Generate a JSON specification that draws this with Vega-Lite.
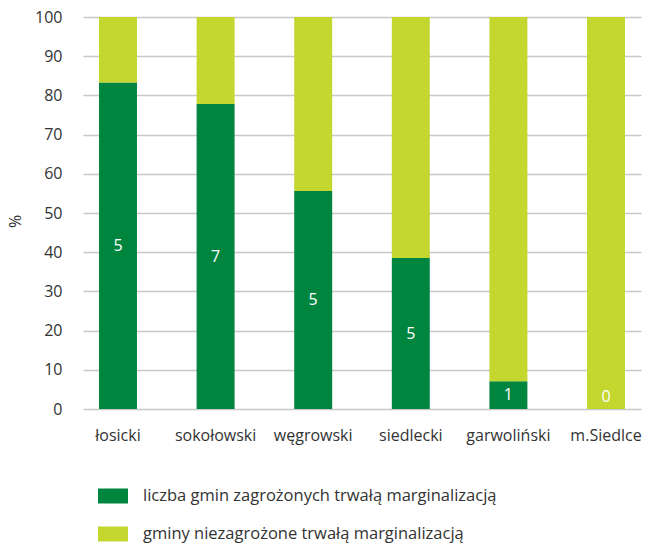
{
  "$schema": "https://vega.github.io/schema/vega-lite/v6.json",
  "autosize": {"type": "none"},
  "width": 558,
  "height": 392,
  "padding": {"left": 83, "top": 17, "right": 4, "bottom": 135},
  "background": "white",
  "config": {
    "font": "Open Sans",
    "view": {"stroke": null},
    "axis": {"labelFontSize": 16, "labelColor": "#333333", "ticks": false, "domain": false, "labelFont": "Open Sans"}
  },
  "data": {
    "values": [
      {"powiat": "łosicki", "kat": "liczba gmin zagrożonych trwałą marginalizacją", "ord": 1, "pct": 83.3, "n": 5},
      {"powiat": "łosicki", "kat": "gminy niezagrożone trwałą marginalizacją", "ord": 2, "pct": 16.7, "n": 1},
      {"powiat": "sokołowski", "kat": "liczba gmin zagrożonych trwałą marginalizacją", "ord": 1, "pct": 77.8, "n": 7},
      {"powiat": "sokołowski", "kat": "gminy niezagrożone trwałą marginalizacją", "ord": 2, "pct": 22.2, "n": 2},
      {"powiat": "węgrowski", "kat": "liczba gmin zagrożonych trwałą marginalizacją", "ord": 1, "pct": 55.6, "n": 5},
      {"powiat": "węgrowski", "kat": "gminy niezagrożone trwałą marginalizacją", "ord": 2, "pct": 44.4, "n": 4},
      {"powiat": "siedlecki", "kat": "liczba gmin zagrożonych trwałą marginalizacją", "ord": 1, "pct": 38.5, "n": 5},
      {"powiat": "siedlecki", "kat": "gminy niezagrożone trwałą marginalizacją", "ord": 2, "pct": 61.5, "n": 8},
      {"powiat": "garwoliński", "kat": "liczba gmin zagrożonych trwałą marginalizacją", "ord": 1, "pct": 7.1, "n": 1},
      {"powiat": "garwoliński", "kat": "gminy niezagrożone trwałą marginalizacją", "ord": 2, "pct": 92.9, "n": 13},
      {"powiat": "m.Siedlce", "kat": "liczba gmin zagrożonych trwałą marginalizacją", "ord": 1, "pct": 0, "n": 0},
      {"powiat": "m.Siedlce", "kat": "gminy niezagrożone trwałą marginalizacją", "ord": 2, "pct": 100, "n": 1}
    ]
  },
  "encoding": {
    "x": {
      "field": "powiat", "type": "nominal", "sort": null,
      "scale": {"paddingInner": 0.611, "paddingOuter": 0.164},
      "axis": {"title": null, "labelAngle": 0, "labelFontSize": 16, "labelPadding": 18}
    }
  },
  "layer": [
    {
      "mark": {"type": "bar"},
      "encoding": {
        "y": {
          "field": "pct", "type": "quantitative", "stack": "zero",
          "scale": {"domain": [0, 100]},
          "axis": {"title": "%", "titleFontSize": 16, "titleFontWeight": "normal", "titleColor": "#333333", "titleX": -60, "titleY": 204, "values": [0,10,20,30,40,50,60,70,80,90,100], "labelFontSize": 16, "labelPadding": 21, "gridColor": "#c8c8c8", "gridWidth": 1.5}
        },
        "color": {
          "field": "kat", "type": "nominal",
          "scale": {
            "domain": ["liczba gmin zagrożonych trwałą marginalizacją", "gminy niezagrożone trwałą marginalizacją"],
            "range": ["#00853f", "#c3d72f"]
          },
          "legend": {
            "title": null, "orient": "none", "legendX": 15, "legendY": 464,
            "direction": "vertical",
            "symbolType": "M-1,-0.5H1V0.5H-1Z", "symbolSize": 900, "symbolStrokeWidth": 0,
            "symbolOpacity": 1,
            "labelFontSize": 16.5, "labelColor": "#333333", "labelOffset": 15, "labelLimit": 500,
            "rowPadding": 14
          }
        },
        "order": {"field": "ord", "type": "quantitative"}
      }
    },
    {
      "transform": [
        {"filter": "datum.ord == 1"},
        {"calculate": "max(datum.pct / 2, 3)", "as": "mid"}
      ],
      "mark": {"type": "text", "color": "white", "fontSize": 16, "baseline": "middle"},
      "encoding": {
        "y": {
          "field": "mid", "type": "quantitative",
          "axis": {"title": "%", "titleFontSize": 16, "titleFontWeight": "normal", "titleColor": "#333333", "titleX": -60, "titleY": 204, "values": [0,10,20,30,40,50,60,70,80,90,100], "labelFontSize": 16, "labelPadding": 21, "gridColor": "#c8c8c8", "gridWidth": 1.5}
        },
        "text": {"field": "n", "type": "quantitative"}
      }
    }
  ]
}
